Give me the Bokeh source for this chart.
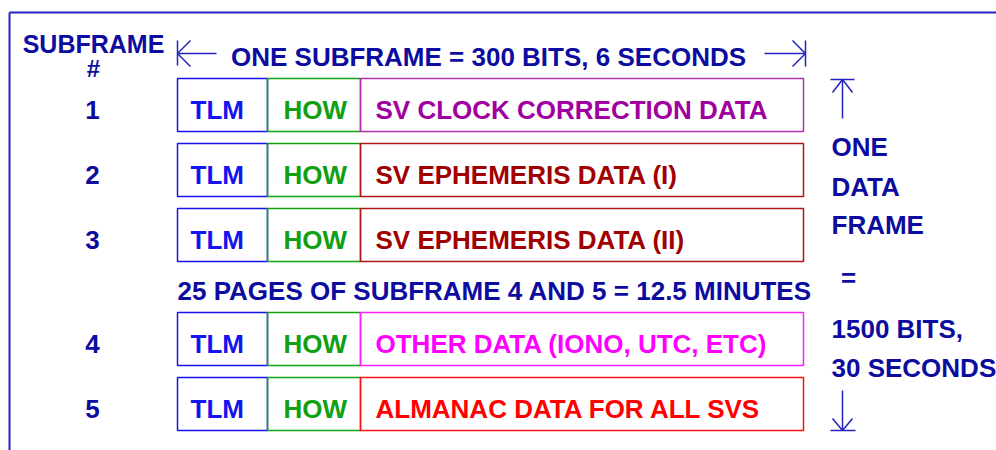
from bokeh.plotting import figure
from bokeh.models import Range1d, ColumnDataSource
from bokeh.core.properties import value
from bokeh.embed import file_html
from bokeh.resources import INLINE

# ---- content ----
subframe_numbers = ["1", "2", "3", "4", "5"]
tlm_label = "TLM"
how_label = "HOW"
data_labels = [
    "SV CLOCK CORRECTION DATA",
    "SV EPHEMERIS DATA (I)",
    "SV EPHEMERIS DATA (II)",
    "OTHER DATA (IONO, UTC, ETC)",
    "ALMANAC DATA FOR ALL SVS",
]
data_colors = ["#a000a0", "#a00000", "#a00000", "#ff00ff", "#ff0000"]
data_box_colors = ["#b030b0", "#b01818", "#b01818", "#ff20ff", "#ff1010"]
header_label = "SUBFRAME"
header_hash = "#"
title_label = "ONE SUBFRAME = 300 BITS, 6 SECONDS"
pages_label = "25 PAGES OF SUBFRAME 4 AND 5 = 12.5 MINUTES"
right_labels = ["ONE", "DATA", "FRAME", "=", "1500 BITS,", "30 SECONDS"]

# ---- layout (pixel coordinates of the diagram) ----
TB = -9  # baseline correction for rendered text
row_tops = [78, 143, 208, 312, 377]
ROW_H = 53
X_TLM, X_HOW, X_DATA, X_END = 177, 267, 360, 803
right_baselines = [155, 195, 233, 286, 337, 376]

NAVY = "#0c0ca0"
LINE_NAVY = "#2222c0"
TLM_C = "#1414f0"
HOW_C = "#10a010"
FONT = value("Liberation Sans")
FS = "26px"

p = figure(width=996, height=450, output_backend="svg", toolbar_location=None,
           x_range=Range1d(0, 996), y_range=Range1d(450, 0), min_border=0)
p.axis.visible = False
p.grid.visible = False
p.outline_line_color = None
p.background_fill_color = "white"
p.border_fill_color = "white"

# outer frame
p.segment(x0=[9, 9], y0=[12, 12], x1=[996, 9], y1=[12, 450], line_color=LINE_NAVY, line_width=2)

def txt(xs, ys, texts, color, align="left", size=FS):
    p.text(x=xs, y=[y + TB for y in ys], text=texts, text_color=color, text_font=FONT,
           text_font_style="bold", text_font_size=size, text_align=align,
           text_baseline="alphabetic")

# header
txt([93], [52], [header_label], NAVY, "center", "25px")
txt([93], [77], [header_hash], NAVY, "center", "24px")
txt([488], [65], [title_label], NAVY, "center")

# horizontal arrows (left & right)
p.segment(x0=[177, 177, 177, 177], y0=[40, 53, 53, 53], x1=[177, 216, 190, 190], y1=[65, 53, 40, 66],
          line_color=LINE_NAVY, line_width=1.5)
p.segment(x0=[805, 764, 805, 805], y0=[40, 53, 53, 53], x1=[805, 805, 792, 792], y1=[66, 53, 40, 66],
          line_color=LINE_NAVY, line_width=1.5)

# rows
bottoms = [t + ROW_H for t in row_tops]
src = ColumnDataSource(dict(top=row_tops, bottom=bottoms, num=subframe_numbers,
                            data=data_labels, dcol=data_colors, bcol=data_box_colors,
                            base=[t + 40 + TB for t in row_tops]))
p.quad(left=X_TLM, right=X_HOW, top="top", bottom="bottom", source=src,
       fill_color=None, line_color=TLM_C, line_width=1.5)
p.quad(left=X_HOW, right=X_DATA, top="top", bottom="bottom", source=src,
       fill_color=None, line_color=HOW_C, line_width=1.5)
p.quad(left=X_DATA, right=X_END, top="top", bottom="bottom", source=src,
       fill_color=None, line_color="bcol", line_width=1.5)

p.text(x=92, y="base", text="num", source=src, text_color=NAVY, text_font=FONT,
       text_font_style="bold", text_font_size=FS, text_align="center", text_baseline="alphabetic")
p.text(x=190, y="base", text=value(tlm_label), source=src, text_color=TLM_C, text_font=FONT,
       text_font_style="bold", text_font_size=FS, text_baseline="alphabetic")
p.text(x=283, y="base", text=value(how_label), source=src, text_color=HOW_C, text_font=FONT,
       text_font_style="bold", text_font_size=FS, text_baseline="alphabetic")
p.text(x=375, y="base", text="data", source=src, text_color="dcol", text_font=FONT,
       text_font_style="bold", text_font_size=FS, text_baseline="alphabetic")

# pages label
txt([177], [299], [pages_label], NAVY)

# right column
rx = [831, 831, 831, 848, 831, 831]
ralign = ["left", "left", "left", "center", "left", "left"]
p.text(x=rx, y=[y + TB for y in right_baselines], text=right_labels, text_align=ralign,
       text_color=NAVY, text_font=FONT, text_font_style="bold", text_font_size=FS,
       text_baseline="alphabetic")

# vertical arrows
p.segment(x0=[830, 842, 842, 842], y0=[79, 79, 79, 79], x1=[854, 842, 832, 852], y1=[79, 118, 92, 92],
          line_color=LINE_NAVY, line_width=1.5)
p.segment(x0=[830, 842, 842, 842], y0=[430, 390, 430, 430], x1=[855, 842, 832, 852], y1=[430, 430, 418, 418],
          line_color=LINE_NAVY, line_width=1.5)

open("out.html", "w").write(file_html(p, INLINE))
